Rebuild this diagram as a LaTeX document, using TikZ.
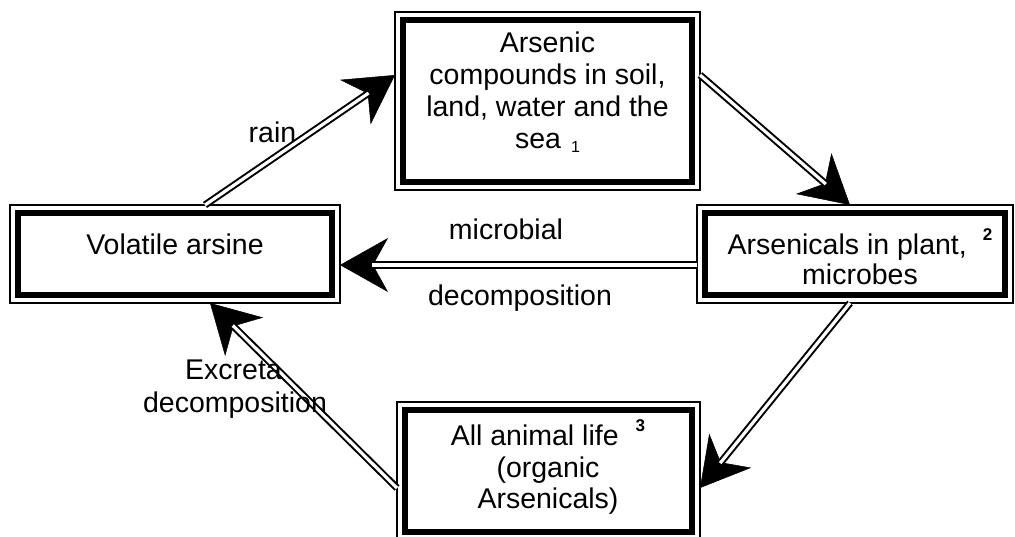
\documentclass[tikz,border=0pt]{standalone}
\usepackage{fontspec}
\setmainfont{Liberation Sans}
\usetikzlibrary{arrows.meta}
\begin{document}
\begin{tikzpicture}[x=1pt,y=-1pt,
  box/.style={draw, line width=1.5pt, outer sep=0pt, inner sep=0pt},
  inner/.style={line width=6.5pt},
  txt/.style={inner sep=0pt, outer sep=0pt, anchor=base, font=\fontsize{28.5}{32}\selectfont},
  head/.style={line width=0.5pt, -{Stealth[length=48pt,width=54pt,inset=15pt]}},
  shaft/.style={double, line width=2pt, double distance=3.2pt, shorten >=32pt}]
\useasboundingbox (0,0) rectangle (1015,537);
% boxes
\node[box, minimum width=305pt, minimum height=178pt] (T) at (547.5,101) {};
\node[box, minimum width=330pt, minimum height=98pt] (L) at (175,254) {};
\node[box, minimum width=316pt, minimum height=98pt] (R) at (855,254) {};
\node[box, minimum width=303pt, minimum height=138pt] (B) at (548.5,471) {};
\foreach \n in {T,L,R,B}
  \draw[inner] ([shift={(8pt,-8pt)}]\n.north west) rectangle ([shift={(-8pt,8pt)}]\n.south east);
% box texts
\node[txt] (Tt) at (547.5,53) {\begin{tabular}[t]{@{}c@{}}Arsenic\\compounds in soil,\\land, water and the\\sea\hspace{10pt}\raisebox{-4pt}{\fontsize{16}{16}\selectfont 1}\end{tabular}};
\node[txt] (Lt) at (175,255) {Volatile arsine};
\node[txt] (Rt) at (860,255) {\begin{tabular}[t]{@{}c@{}}Arsenicals in plant,\hspace{16pt}\raisebox{14pt}{\fontsize{17}{17}\selectfont\bfseries 2}\\[-2pt]microbes\end{tabular}};
\node[txt] (Bt) at (548,445) {\begin{tabular}[t]{@{}c@{}}All animal life\hspace{17pt}\raisebox{14pt}{\fontsize{17}{17}\selectfont\bfseries 3}\\(organic\\[-1pt]Arsenicals)\end{tabular}};
% connectors: arrow heads
\draw[head] ([xshift=30pt]L.north) -- ([yshift=26pt]T.west);
\draw[head] ([yshift=26pt]T.east) -- ([xshift=-5pt]R.north);
\draw[head] ([yshift=-11pt]R.west) -- ([yshift=-11pt]L.east);
\draw[head] ([xshift=-5pt]R.south) -- ([yshift=-17pt]B.east);
\draw[head] ([yshift=-17pt]B.west) -- ([xshift=35pt]L.south);
% connectors: double shafts
\draw[shaft] ([xshift=30pt]L.north) -- ([yshift=26pt]T.west);
\draw[shaft] ([yshift=26pt]T.east) -- ([xshift=-5pt]R.north);
\draw[shaft] ([yshift=-11pt]R.west) -- ([yshift=-11pt]L.east);
\draw[shaft] ([xshift=-5pt]R.south) -- ([yshift=-17pt]B.east);
\draw[shaft] ([yshift=-17pt]B.west) -- ([xshift=35pt]L.south);
% connector labels
\node[txt] (rain) at (272.5,143) {rain};
\node[txt] (mic) at (506,240) {microbial};
\node[txt] (dec) at (520,306) {decomposition};
\node[txt] (exc) at (233.5,380) {Excreta};
\node[txt] (dec2) at (235,412) {decomposition};
\end{tikzpicture}
\end{document}
